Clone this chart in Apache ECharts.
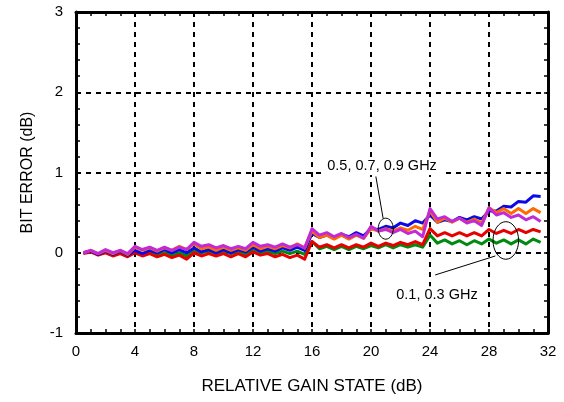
<!DOCTYPE html>
<html>
<head>
<meta charset="utf-8">
<script src="https://cdn.jsdelivr.net/npm/echarts@6/dist/echarts.min.js"></script>
<style>html,body{margin:0;padding:0;background:#fff}#c{width:564px;height:402px}</style>
</head>
<body>
<div id="c"></div>
<script>
// Gain states (dB), 0.5 dB steps
const gainStates = [0.5,1,1.5,2,2.5,3,3.5,4,4.5,5,5.5,6,6.5,7,7.5,8,8.5,9,9.5,10,10.5,11,11.5,12,12.5,13,13.5,14,14.5,15,15.5,16,16.5,17,17.5,18,18.5,19,19.5,20,20.5,21,21.5,22,22.5,23,23.5,24,24.5,25,25.5,26,26.5,27,27.5,28,28.5,29,29.5,30,30.5,31,31.5];

const green = [0,0.02,-0.02,0.01,-0.02,0.01,-0.03,0.02,-0.02,0.01,-0.02,0,-0.03,0,-0.04,0.03,0,0.02,-0.01,0.02,-0.01,0.01,-0.02,0.03,0,0.02,-0.01,0.02,-0.01,0.02,-0.02,0.14,0.05,0.08,0.04,0.08,0.04,0.08,0.05,0.09,0.06,0.1,0.06,0.1,0.07,0.1,0.07,0.22,0.12,0.16,0.11,0.15,0.1,0.15,0.11,0.17,0.12,0.16,0.11,0.16,0.11,0.17,0.13];
const red = [-0.01,0.01,-0.03,0,-0.04,-0.01,-0.05,0,-0.04,-0.01,-0.05,-0.02,-0.06,-0.03,-0.08,0,-0.04,-0.01,-0.04,-0.01,-0.05,-0.01,-0.05,0.01,-0.03,-0.01,-0.05,-0.02,-0.06,-0.03,-0.08,0.14,0.07,0.1,0.06,0.1,0.06,0.1,0.07,0.12,0.08,0.12,0.09,0.13,0.1,0.14,0.1,0.3,0.21,0.25,0.21,0.25,0.21,0.25,0.21,0.29,0.24,0.28,0.24,0.29,0.25,0.29,0.26];
const blue = [0,0.02,-0.02,0.02,-0.02,0.02,-0.03,0.03,-0.01,0.03,0,0.04,0,0.04,0,0.06,0.01,0.04,0,0.04,0,0.04,0.01,0.07,0.02,0.05,0.02,0.06,0.03,0.07,0.03,0.24,0.19,0.22,0.19,0.23,0.2,0.25,0.21,0.3,0.29,0.33,0.31,0.37,0.34,0.4,0.37,0.47,0.38,0.41,0.39,0.44,0.41,0.45,0.42,0.52,0.52,0.58,0.57,0.64,0.63,0.71,0.7];
const orange = [0,0.03,-0.01,0.03,-0.01,0.03,-0.02,0.07,0.03,0.06,0.02,0.06,0.03,0.08,0.04,0.11,0.05,0.07,0.03,0.07,0.03,0.06,0.03,0.1,0.05,0.08,0.05,0.09,0.06,0.11,0.06,0.27,0.19,0.22,0.17,0.22,0.17,0.22,0.18,0.3,0.27,0.3,0.27,0.31,0.28,0.33,0.29,0.52,0.38,0.43,0.38,0.43,0.38,0.42,0.37,0.56,0.5,0.55,0.49,0.55,0.49,0.55,0.5];
const purple = [0,0.03,-0.01,0.04,0,0.03,-0.01,0.08,0.04,0.07,0.03,0.07,0.03,0.07,0.04,0.13,0.08,0.1,0.06,0.09,0.05,0.08,0.05,0.13,0.08,0.1,0.07,0.11,0.07,0.1,0.06,0.3,0.22,0.25,0.2,0.24,0.19,0.23,0.18,0.33,0.27,0.29,0.25,0.29,0.24,0.27,0.2,0.55,0.42,0.45,0.39,0.43,0.37,0.4,0.34,0.56,0.47,0.5,0.44,0.47,0.41,0.45,0.39];

const seriesNames = ['0.1 GHz','0.3 GHz','0.5 GHz','0.7 GHz','0.9 GHz'];
const seriesValues = [green, red, blue, orange, purple];
const seriesColors = ['#008a10','#e60000','#0a0ae6','#ff6a00','#c22ad6'];

const xTicks = {min:0, max:32, interval:4};
const yTicks = {min:-1, max:3, interval:1};

// Annotations in data coordinates
const annoText = ['0.5, 0.7, 0.9 GHz', '0.1, 0.3 GHz'];
const annoTextPos = [[20.75, 1.08], [24.47, -0.53]];
const annoEllipse = [[21.0, 0.30], [29.14, 0.153]];
const annoEllipseR = [[7.5, 10.5], [12.8, 18.8]];
const annoLeader = [[[20.33, 0.95], [20.82, 0.43]], [[28.43, -0.04], [24.35, -0.277]]];

const FONT = '"Liberation Sans", Arial, Helvetica, sans-serif';
const ANNO_FONT = '14.5px ' + FONT;
const chart = echarts.init(document.getElementById('c'), null, {renderer:'canvas'});

const axisLineStyle = {color:'#000', width:3};
const tickStyle = {color:'#000', width:1.5};
const gridLine = {show:true, lineStyle:{color:'#000', type:[5,5], width:2}};

const option = {
  backgroundColor:'#fff',
  animation:false,
  grid:{left:76, right:16, top:12, bottom:69, containLabel:false},
  xAxis:[{
    type:'value', position:'bottom', min:xTicks.min, max:xTicks.max, interval:xTicks.interval,
    axisLine:{onZero:false, lineStyle:axisLineStyle},
    axisTick:{inside:true, length:4, lineStyle:tickStyle},
    minorTick:{show:true, splitNumber:4, length:4, lineStyle:tickStyle},
    splitLine:gridLine,
    axisLabel:{color:'#000', fontSize:15, fontFamily:FONT, margin:11},
    name:'RELATIVE GAIN STATE (dB)', nameLocation:'middle', nameGap:45,
    nameTextStyle:{color:'#000', fontSize:17, fontFamily:FONT}
  },{
    type:'value', position:'top', min:xTicks.min, max:xTicks.max, interval:xTicks.interval,
    axisLine:{onZero:false, lineStyle:axisLineStyle},
    axisTick:{inside:true, length:4, lineStyle:tickStyle},
    minorTick:{show:true, splitNumber:4, length:4, lineStyle:tickStyle},
    splitLine:{show:false}, axisLabel:{show:false}
  }],
  yAxis:[{
    type:'value', position:'left', min:yTicks.min, max:yTicks.max, interval:yTicks.interval,
    axisLine:{onZero:false, lineStyle:axisLineStyle},
    axisTick:{inside:true, length:4, lineStyle:tickStyle},
    minorTick:{show:true, splitNumber:5, length:4, lineStyle:tickStyle},
    splitLine:gridLine,
    axisLabel:{color:'#000', fontSize:15, fontFamily:FONT, margin:13},
    name:'BIT ERROR (dB)', nameLocation:'middle', nameGap:40, nameRotate:90,
    nameTextStyle:{color:'#000', fontSize:16, fontFamily:FONT}
  },{
    type:'value', position:'right', min:yTicks.min, max:yTicks.max, interval:yTicks.interval,
    axisLine:{onZero:false, lineStyle:axisLineStyle},
    axisTick:{inside:true, length:4, lineStyle:tickStyle},
    minorTick:{show:true, splitNumber:5, length:4, lineStyle:tickStyle},
    splitLine:{show:false}, axisLabel:{show:false}
  }],
  series: seriesValues.map((vals, i) => ({
    name: seriesNames[i], type:'line', xAxisIndex:0, yAxisIndex:0,
    data: gainStates.map((g, k) => [g, vals[k]]),
    showSymbol:false, symbol:'none',
    lineStyle:{color:seriesColors[i], width:3, join:'round'},
    itemStyle:{color:seriesColors[i]}, z:2+i
  }))
};
chart.setOption(option);

const measureCtx = document.createElement('canvas').getContext('2d');
measureCtx.font = ANNO_FONT;
const px = p => chart.convertToPixel({xAxisIndex:0, yAxisIndex:0}, p);
const graphics = [];
annoLeader.forEach(seg => {
  const a = px(seg[0]), b = px(seg[1]);
  graphics.push({type:'line', z:100, shape:{x1:a[0], y1:a[1], x2:b[0], y2:b[1]}, style:{stroke:'#000', lineWidth:1}});
});
annoEllipse.forEach((c, i) => {
  const p = px(c);
  graphics.push({type:'ellipse', z:100, shape:{cx:p[0], cy:p[1], rx:annoEllipseR[i][0], ry:annoEllipseR[i][1]}, style:{fill:null, stroke:'#000', lineWidth:1}});
});
annoText.forEach((t, i) => {
  const p = px(annoTextPos[i]);
  const w = measureCtx.measureText(t).width + 10;
  const h = 18;
  graphics.push({type:'rect', z:101, shape:{x:p[0]-w/2, y:p[1]-h/2, width:w, height:h}, style:{fill:'#fff', stroke:null}});
  graphics.push({type:'text', z:102, x:p[0], y:p[1], style:{text:t, fill:'#000', font:ANNO_FONT, align:'center', verticalAlign:'middle'}});
});
chart.setOption({graphic:graphics});
</script>
</body>
</html>
